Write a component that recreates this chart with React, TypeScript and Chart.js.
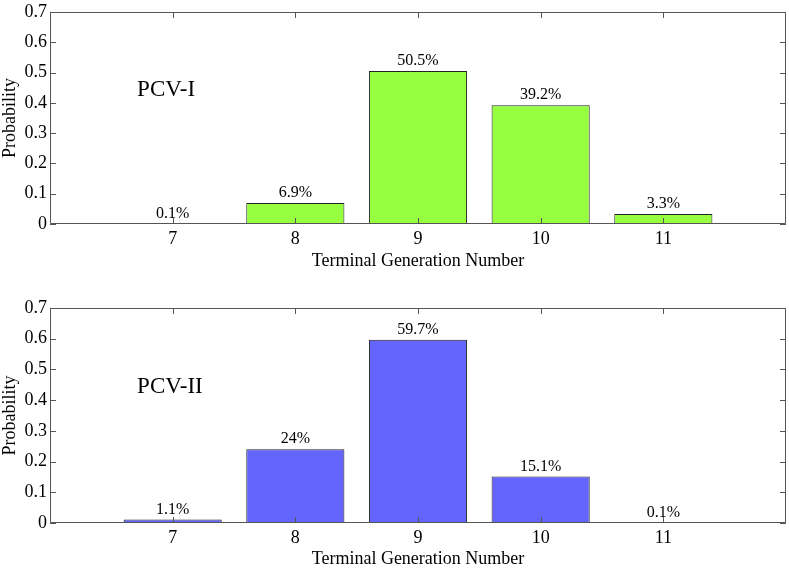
import React, { useEffect, useRef } from 'react';
import { Chart, registerables } from 'chart.js';

Chart.register(...registerables);

const generations = [7, 8, 9, 10, 11];
const pcv1Values = [0.001, 0.069, 0.505, 0.392, 0.033];
const pcv1Labels = ['0.1%', '6.9%', '50.5%', '39.2%', '3.3%'];
const pcv2Values = [0.011, 0.24, 0.597, 0.151, 0.001];
const pcv2Labels = ['1.1%', '24%', '59.7%', '15.1%', '0.1%'];
const yTicks = [0, 0.1, 0.2, 0.3, 0.4, 0.5, 0.6, 0.7];
const yTickLabels = ['0', '0.1', '0.2', '0.3', '0.4', '0.5', '0.6', '0.7'];

const FONT = '"Liberation Serif", "Times New Roman", serif';
const FRAME = '#555555';

const decorPlugin = {
  id: 'panelDecor',
  afterDatasetsDraw(chart: any, _args: any, opts: any) {
    const { ctx, chartArea } = chart;
    const xs = chart.scales.x;
    const ys = chart.scales.y;
    const { left, right, top, bottom } = chartArea;
    ctx.save();
    ctx.strokeStyle = FRAME;
    ctx.lineWidth = 1;
    ctx.beginPath();
    ctx.rect(Math.round(left) + 0.5, Math.round(top) + 0.5, Math.round(right - left) - 1, Math.round(bottom - top) - 1);
    ctx.stroke();
    const tl = 6;
    ctx.beginPath();
    generations.forEach((g) => {
      const px = Math.round(xs.getPixelForValue(g)) + 0.5;
      ctx.moveTo(px, bottom);
      ctx.lineTo(px, bottom - tl);
      ctx.moveTo(px, top);
      ctx.lineTo(px, top + tl);
    });
    yTicks.forEach((v) => {
      const py = Math.round(ys.getPixelForValue(v)) + 0.5;
      ctx.moveTo(left, py);
      ctx.lineTo(left + tl, py);
      ctx.moveTo(right, py);
      ctx.lineTo(right - tl, py);
    });
    ctx.stroke();

    // value labels
    const meta = chart.getDatasetMeta(0);
    ctx.fillStyle = '#000';
    ctx.font = `16px ${FONT}`;
    ctx.textAlign = 'center';
    ctx.textBaseline = 'alphabetic';
    meta.data.forEach((bar: any, i: number) => {
      ctx.fillText(opts.labels[i], bar.x, bar.y - 6);
    });

    // panel label
    ctx.font = `23px ${FONT}`;
    ctx.textAlign = 'left';
    ctx.textBaseline = 'middle';
    ctx.fillText(opts.title, xs.getPixelForValue(6.71), ys.getPixelForValue(0.443));
    ctx.restore();
  },
};

function makeConfig(values: number[], labels: string[], title: string, color: string, topPad: number, xHeight: number, titlePad: number) {
  return {
    type: 'bar' as const,
    data: {
      datasets: [
        {
          data: generations.map((g, i) => ({ x: g, y: values[i] })),
          backgroundColor: color,
          borderColor: '#222222',
          borderWidth: 1,
          barPercentage: 0.8,
          categoryPercentage: 1,
        },
      ],
    },
    options: {
      animation: false,
      responsive: false,
      events: [],
      layout: { padding: { top: topPad, right: 3, left: 0, bottom: 0 } },
      plugins: {
        legend: { display: false },
        tooltip: { enabled: false },
        panelDecor: { labels, title },
      },
      scales: {
        x: {
          type: 'linear',
          offset: false,
          min: 6,
          max: 12,
          afterBuildTicks: (s: any) => {
            s.ticks = generations.map((v) => ({ value: v }));
          },
          afterFit: (s: any) => {
            s.height = xHeight;
          },
          grid: { display: false, drawTicks: false, offset: false },
          border: { display: false },
          ticks: {
            padding: 6,
            color: '#000',
            autoSkip: false,
            maxRotation: 0,
            font: { family: FONT, size: 18, lineHeight: 1 },
            callback: (v: any) => String(v),
          },
          title: {
            display: true,
            text: 'Terminal Generation Number',
            color: '#000',
            font: { family: FONT, size: 18, lineHeight: 1 },
            padding: { top: 0, bottom: titlePad },
          },
        },
        y: {
          min: 0,
          max: 0.7,
          afterBuildTicks: (s: any) => {
            s.ticks = yTicks.map((v) => ({ value: v }));
          },
          afterFit: (s: any) => {
            s.width = 50;
          },
          grid: { display: false, drawTicks: false },
          border: { display: false },
          ticks: {
            padding: 3,
            color: '#000',
            font: { family: FONT, size: 18, lineHeight: 1 },
            callback: (_v: any, i: number) => yTickLabels[i],
          },
          title: {
            display: true,
            text: 'Probability',
            color: '#000',
            font: { family: FONT, size: 18, lineHeight: 1 },
            padding: { top: 1, bottom: 0 },
          },
        },
      },
    },
    plugins: [decorPlugin],
  };
}

function Panel(props: { values: number[]; labels: string[]; title: string; color: string; topPad: number; xHeight: number; titlePad: number }) {
  const ref = useRef<HTMLCanvasElement | null>(null);
  useEffect(() => {
    if (!ref.current) return;
    const chart = new Chart(ref.current, makeConfig(props.values, props.labels, props.title, props.color, props.topPad, props.xHeight, props.titlePad) as any);
    return () => chart.destroy();
  }, []);
  return <canvas ref={ref} width={789} height={284} style={{ display: 'block', width: 789, height: 284 }} />;
}

export default function App() {
  return (
    <div style={{ position: 'fixed', left: 0, top: 0, width: 789, height: 568, overflow: 'hidden', background: '#fff' }}>
      <Panel values={pcv1Values} labels={pcv1Labels} title="PCV-I" color="#96ff40" topPad={9} xHeight={60} titlePad={14} />
      <Panel values={pcv2Values} labels={pcv2Labels} title="PCV-II" color="#6464ff" topPad={24} xHeight={45} titlePad={0} />
    </div>
  );
}
